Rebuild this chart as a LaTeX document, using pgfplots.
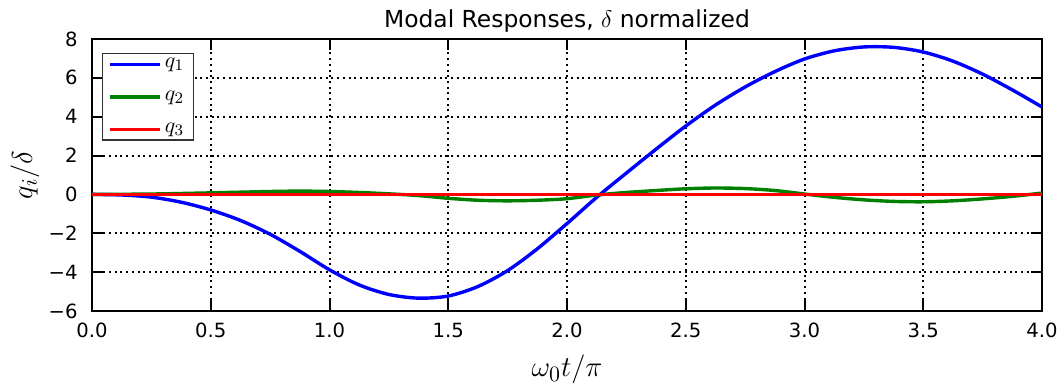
\documentclass[border=0pt]{standalone}
\usepackage{pgfplots}
\pgfplotsset{compat=1.18}
\usepackage{fontspec}
\setmainfont{DejaVu Sans}
\definecolor{mplblue}{RGB}{0,0,255}
\definecolor{mplgreen}{RGB}{0,128,0}
\definecolor{mplred}{RGB}{255,0,0}
\begin{document}
\begin{tikzpicture}
\begin{axis}[
  width=475pt, height=136pt, scale only axis,
  xmin=0, xmax=4, ymin=-6, ymax=8,
  xtick={0,0.5,1,1.5,2,2.5,3,3.5,4},
  xticklabels={0.0,0.5,1.0,1.5,2.0,2.5,3.0,3.5,4.0},
  ytick={-6,-4,-2,0,2,4,6,8},
  yticklabels={−6,−4,−2,0,2,4,6,8},
  xticklabel pos=lower, yticklabel pos=left,
  tick align=inside, major tick length=5.3pt,
  tick style={black, line width=1pt},
  minor tick num=0,
  axis line style={black, line width=1.3pt},
  grid=major,
  major grid style={black, line width=1pt, dash pattern=on 1pt off 1.85pt},
  xticklabel style={font=\fontsize{9.8}{11}\selectfont, inner sep=0pt, anchor=north, yshift=-6pt},
  yticklabel style={font=\fontsize{9.8}{11}\selectfont, inner sep=0pt, anchor=east, xshift=-7pt},
  every axis title shift=0pt,
  title={Modal Responses, $\delta$ normalized},
  title style={font=\fontsize{11.7}{13}\selectfont, at={(axis description cs:0.5,1.044)}, anchor=base, inner sep=0pt},
  xlabel={$\omega_0 t/\pi$},
  xlabel style={font=\fontsize{15}{17}\selectfont, at={(axis description cs:0.5,-0.2426)}, anchor=base, inner sep=0pt},
  ylabel={$q_i/\delta$},
  ylabel style={font=\fontsize{15}{17}\selectfont, at={(axis description cs:-0.063,0.5)}, anchor=base, inner sep=0pt},
  legend style={at={(axis description cs:0.0105,0.948)}, anchor=north west,
    draw=black!80, line width=0.6pt, font=\fontsize{11}{13}\selectfont,
    inner xsep=3pt, inner ysep=0.75pt, row sep=7pt,
    nodes={inner sep=1.5pt}},
  legend cell align=left,
  legend image code/.code={\path (-2pt,0pt) -- (0pt,0pt); \draw[#1] (0pt,0pt) -- (15.5pt,0pt); \path (15.5pt,0pt) -- (23pt,0pt);},
]
\addplot[mplblue, line width=1.7pt, smooth] coordinates {
(0,0) (0.125,-0.03) (0.25,-0.14) (0.375,-0.4) (0.5,-0.8) (0.625,-1.34)
(0.75,-2.05) (0.875,-2.93) (1.0,-3.88) (1.125,-4.66) (1.25,-5.15) (1.375,-5.34)
(1.5,-5.23) (1.625,-4.74) (1.75,-3.92) (1.875,-2.8) (2.0,-1.5) (2.125,-0.15)
(2.25,1.1) (2.375,2.33) (2.5,3.52) (2.625,4.6) (2.75,5.53) (2.875,6.32)
(3.0,6.97) (3.125,7.39) (3.25,7.59) (3.375,7.57) (3.5,7.33) (3.625,6.86)
(3.75,6.19) (3.875,5.38) (4.0,4.5)
};
\addlegendentry{$q_1$}
\addplot[mplgreen, line width=1.7pt, smooth] coordinates {
(0,0) (0.25,0.02) (0.5,0.08) (0.75,0.15) (0.875,0.17) (1.0,0.15) (1.125,0.1)
(1.25,0.03) (1.375,-0.06) (1.5,-0.2) (1.625,-0.3) (1.75,-0.33) (1.875,-0.3)
(2.0,-0.22) (2.125,-0.03) (2.25,0.1) (2.375,0.2) (2.5,0.29) (2.625,0.33)
(2.75,0.3) (2.875,0.2) (3.0,0.02) (3.125,-0.15) (3.25,-0.28) (3.375,-0.36)
(3.5,-0.38) (3.625,-0.33) (3.75,-0.23) (3.875,-0.1) (4.0,0.07)
};
\addlegendentry{$q_2$}
\addplot[mplred, line width=1.7pt] coordinates {
(0,0) (0.5,0) (1.0,0) (1.5,0) (2.0,0) (2.5,0) (3.0,0) (3.5,0) (4.0,0)
};
\addlegendentry{$q_3$}
\coordinate (bl) at (rel axis cs:0,0);
\coordinate (tr) at (rel axis cs:1,1);
\end{axis}
\pgfresetboundingbox
\path[use as bounding box] ([shift={(-46pt,-37pt)}]bl) rectangle ([shift={(10pt,19.5pt)}]tr);
\end{tikzpicture}
\end{document}
